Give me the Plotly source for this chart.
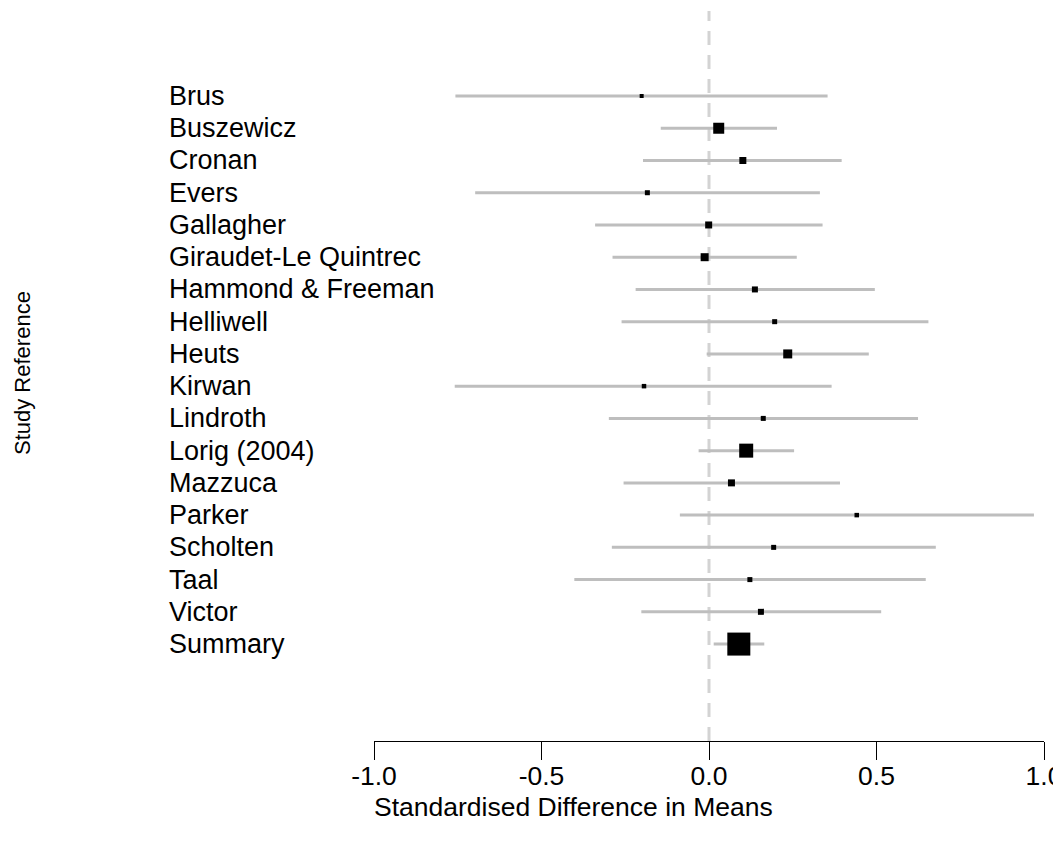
import plotly.graph_objects as go

# ---- data ----
studies = ["Brus", "Buszewicz", "Cronan", "Evers", "Gallagher",
           "Giraudet-Le Quintrec", "Hammond & Freeman", "Helliwell", "Heuts",
           "Kirwan", "Lindroth", "Lorig (2004)", "Mazzuca", "Parker",
           "Scholten", "Taal", "Victor", "Summary"]
estimate = [-0.201, 0.029, 0.101, -0.184, -0.001, -0.013, 0.137, 0.196, 0.235,
            -0.194, 0.162, 0.111, 0.067, 0.441, 0.193, 0.122, 0.155, 0.089]
lower = [-0.757, -0.144, -0.197, -0.698, -0.340, -0.288, -0.219, -0.261, -0.007,
         -0.759, -0.299, -0.031, -0.255, -0.087, -0.290, -0.402, -0.202, 0.014]
upper = [0.354, 0.203, 0.396, 0.331, 0.339, 0.262, 0.495, 0.655, 0.477,
         0.366, 0.624, 0.254, 0.391, 0.970, 0.677, 0.647, 0.514, 0.165]
weight = [4, 11, 7, 5, 7, 8, 6, 5, 9, 4.5, 5, 14, 7, 4.5, 5, 5, 6, 23]

tick_vals = [-1.0, -0.5, 0.0, 0.5, 1.0]
tick_text = ["-1.0", "-0.5", "0.0", "0.5", "1.0"]

x_title = "Standardised Difference in Means"
y_title = "Study Reference"

# ---- geometry ----
W, H = 1061, 847
ML, MR, MT, MB = 366, 25, 3, 114
row0_px, row_step = 88.0, 32.24
plot_h = H - MT - MB
plot_w = W - ML - MR
y_top = (MT - row0_px) / row_step
y_bot = (MT + plot_h - row0_px) / row_step

FONT = "Liberation Sans, Arial, Helvetica, sans-serif"
rows = list(range(len(studies)))

# CI lines
ci_x, ci_y = [], []
for i, (lo, hi) in enumerate(zip(lower, upper)):
    ci_x += [lo, hi, None]
    ci_y += [i, i, None]

fig = go.Figure()
fig.add_trace(go.Scatter(x=ci_x, y=ci_y, mode="lines",
                         line=dict(color="#bebebe", width=3),
                         hoverinfo="skip", showlegend=False))
fig.add_trace(go.Scatter(x=estimate, y=rows, mode="markers",
                         marker=dict(symbol="square", size=weight, color="#000000",
                                     opacity=1, line=dict(width=0)),
                         opacity=1, cliponaxis=False, text=studies,
                         showlegend=False))

# null line
fig.add_shape(type="line", xref="x", yref="paper", x0=0, x1=0, y0=0, y1=1,
              line=dict(color="#d3d3d3", width=3, dash="14px,10px"), layer="below")

# study labels
for i, name in enumerate(studies):
    fig.add_annotation(x=(159 - ML) / plot_w, xref="paper", y=i, yref="y",
                       text=name, showarrow=False, xanchor="left", yanchor="middle",
                       font=dict(family=FONT, size=27, color="black"))

# axis titles
fig.add_annotation(x=(565 - ML) / plot_w, xref="paper",
                   y=-(799 - (H - MB)) / plot_h, yref="paper",
                   text=x_title, showarrow=False, xanchor="center", yanchor="middle",
                   font=dict(family=FONT, size=26.5, color="black"))
fig.add_annotation(x=(14 - ML) / plot_w, xref="paper",
                   y=1 - (365 - MT) / plot_h, yref="paper",
                   text=y_title, showarrow=False, textangle=-90,
                   xanchor="center", yanchor="middle",
                   font=dict(family=FONT, size=22, color="black"))

fig.update_layout(
    width=W, height=H,
    margin=dict(l=ML, r=MR, t=MT, b=MB, pad=0),
    paper_bgcolor="white", plot_bgcolor="white",
    showlegend=False,
    xaxis=dict(range=[-1, 1], tickvals=tick_vals, ticktext=tick_text,
               ticks="outside", ticklen=18, tickwidth=1, tickcolor="black",
               showline=True, linecolor="black", linewidth=1,
               showgrid=False, zeroline=False,
               tickfont=dict(family=FONT, size=26.5, color="black"),
               ticklabelstandoff=-7),
    yaxis=dict(range=[y_bot, y_top], showgrid=False, zeroline=False,
               showticklabels=False, ticks="", showline=False),
)

fig.write_html("out.html")
